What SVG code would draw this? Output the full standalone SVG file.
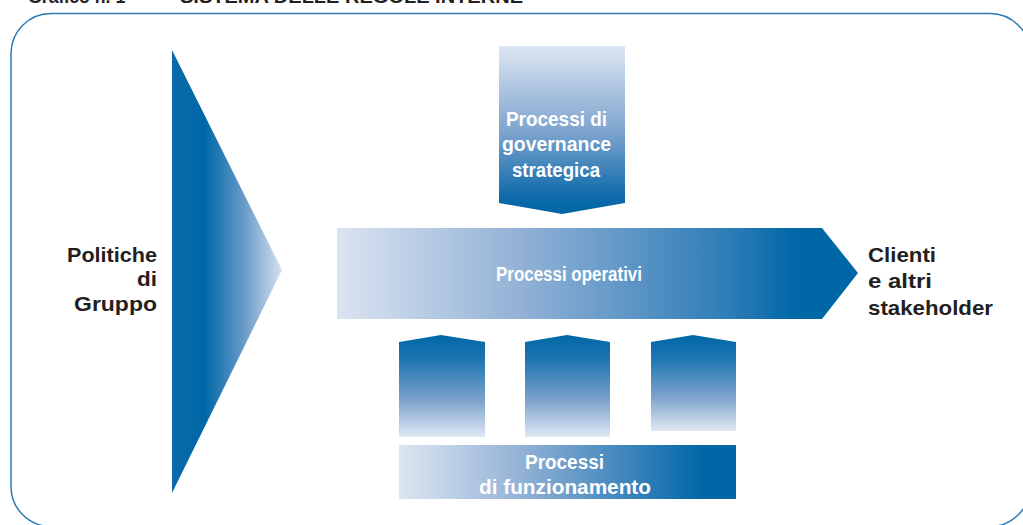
<svg xmlns="http://www.w3.org/2000/svg" width="1023" height="525" viewBox="0 0 1023 525">
  <defs>
    <linearGradient id="gTri" x1="172" y1="0" x2="283" y2="0" gradientUnits="userSpaceOnUse">
      <stop offset="0" stop-color="#0a6aa9"/>
      <stop offset="0.3" stop-color="#0068a8"/>
      <stop offset="0.65" stop-color="#6a9bc9"/>
      <stop offset="1" stop-color="#d8e3f1"/>
    </linearGradient>
    <linearGradient id="gOp" x1="337" y1="0" x2="858" y2="0" gradientUnits="userSpaceOnUse">
      <stop offset="0" stop-color="#dbe4f1"/>
      <stop offset="0.35" stop-color="#93b2d6"/>
      <stop offset="0.75" stop-color="#2e7db7"/>
      <stop offset="0.88" stop-color="#0067a7"/>
      <stop offset="1" stop-color="#0067a7"/>
    </linearGradient>
    <linearGradient id="gGov" x1="0" y1="46" x2="0" y2="214" gradientUnits="userSpaceOnUse">
      <stop offset="0" stop-color="#dde6f2"/>
      <stop offset="0.5" stop-color="#7fa5cf"/>
      <stop offset="0.9" stop-color="#0d6aa9"/>
      <stop offset="1" stop-color="#0066a6"/>
    </linearGradient>
    <linearGradient id="gBox" x1="0" y1="0" x2="0" y2="1">
      <stop offset="0" stop-color="#0067a7"/>
      <stop offset="0.25" stop-color="#1f76b2"/>
      <stop offset="0.65" stop-color="#7ea4cd"/>
      <stop offset="1" stop-color="#e0e8f3"/>
    </linearGradient>
    <linearGradient id="gBar" x1="399" y1="0" x2="736" y2="0" gradientUnits="userSpaceOnUse">
      <stop offset="0" stop-color="#dde6f2"/>
      <stop offset="0.35" stop-color="#95b3d6"/>
      <stop offset="0.75" stop-color="#2a7bb6"/>
      <stop offset="0.9" stop-color="#0067a7"/>
      <stop offset="1" stop-color="#0066a6"/>
    </linearGradient>
  </defs>
  <style>
    .lbl { font-family: "Liberation Sans", Arial, sans-serif; font-weight: bold; font-size: 21px; }
    .dark { fill: #231f20; }
    .white { fill: #ffffff; }
    .title { font-family: "Liberation Sans", Arial, sans-serif; font-weight: bold; font-size: 18px; fill: #231f20; }
  </style>

  <text class="title" x="28" y="3" textLength="112" lengthAdjust="spacingAndGlyphs">Grafico n. 1 –</text>
  <text class="title" x="180" y="3" textLength="343" lengthAdjust="spacingAndGlyphs">SISTEMA DELLE REGOLE INTERNE</text>

  <rect id="frame" x="11" y="13.5" width="1019" height="513" rx="40" ry="40" fill="none" stroke="#2a7ab8" stroke-width="1.5"/>

  <g id="politiche">
    <polygon points="172,50 282,270 172,493" fill="url(#gTri)"/>
    <text class="lbl dark" x="67" y="262" textLength="90" lengthAdjust="spacingAndGlyphs">Politiche</text>
    <text class="lbl dark" x="137" y="286" textLength="20" lengthAdjust="spacingAndGlyphs">di</text>
    <text class="lbl dark" x="74" y="311" textLength="83" lengthAdjust="spacingAndGlyphs">Gruppo</text>
  </g>

  <g id="governance">
    <polygon points="499,46 625,46 625,203 562,214 499,203" fill="url(#gGov)"/>
    <text class="lbl white" x="506" y="126" textLength="101" lengthAdjust="spacingAndGlyphs">Processi di</text>
    <text class="lbl white" x="502" y="151" textLength="109" lengthAdjust="spacingAndGlyphs">governance</text>
    <text class="lbl white" x="512" y="177" textLength="88" lengthAdjust="spacingAndGlyphs">strategica</text>
  </g>

  <g id="operativi">
    <polygon points="337,228 822,228 858,273 822,319 337,319" fill="url(#gOp)"/>
    <text class="lbl white" x="496" y="281" style="font-size:20px" textLength="146" lengthAdjust="spacingAndGlyphs">Processi operativi</text>
  </g>

  <g id="clienti">
    <text class="lbl dark" x="868" y="262" textLength="68" lengthAdjust="spacingAndGlyphs">Clienti</text>
    <text class="lbl dark" x="868" y="288" textLength="64" lengthAdjust="spacingAndGlyphs">e altri</text>
    <text class="lbl dark" x="868" y="315" textLength="125" lengthAdjust="spacingAndGlyphs">stakeholder</text>
  </g>

  <g id="box1">
    <polygon points="399,342 441,335 485,342 485,437 399,437" fill="url(#gBox)"/>
  </g>
  <g id="box2">
    <polygon points="525,342 567,335 610,342 610,437 525,437" fill="url(#gBox)"/>
  </g>
  <g id="box3">
    <polygon points="651,342 693,335 736,342 736,431 651,431" fill="url(#gBox)"/>
  </g>

  <g id="funzionamento">
    <rect x="399" y="445" width="337" height="54" fill="url(#gBar)"/>
    <text class="lbl white" x="525" y="469" textLength="79" lengthAdjust="spacingAndGlyphs">Processi</text>
    <text class="lbl white" x="479" y="494" textLength="172" lengthAdjust="spacingAndGlyphs">di funzionamento</text>
  </g>

  <g id="connectors"></g>
</svg>
